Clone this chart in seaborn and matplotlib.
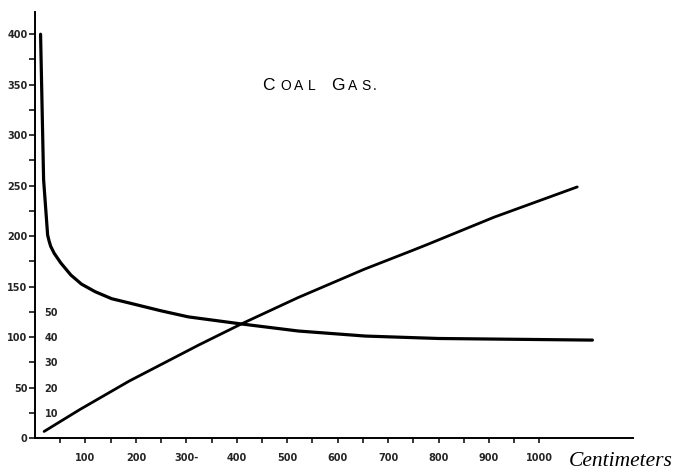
import matplotlib
matplotlib.use("Agg")
import matplotlib.pyplot as plt
import pandas as pd
import seaborn as sns
from matplotlib.ticker import FixedLocator

# -----------------------------
# Data
# -----------------------------
# falling curve, left scale (0-400)
dist_falling = [11, 17, 25, 28, 31, 38, 51, 71, 92, 119, 152, 185, 250, 304, 409, 522, 655, 800, 1105]
val_falling = [400, 256, 201, 195, 190, 183, 173.5, 161.5, 152.5, 145, 138, 134, 126, 120, 113, 106, 101, 98.6, 97]

# rising curve, inner scale (10-50)
dist_rising = [18, 89, 187, 325, 409, 521, 653, 744, 778, 910, 1075]
val_rising = [2.6, 11.3, 22.6, 36.9, 45.2, 55.6, 66.9, 74.0, 76.7, 87.5, 99.5]

x_ticks = [100, 200, 300, 400, 500, 600, 700, 800, 900, 1000]
x_labels = ["100", "200", "300-", "400", "500", "600", "700", "800", "900", "1000"]
x_minor = [50, 150, 250, 350, 450, 550, 650, 750, 850, 950]
y_ticks = [0, 50, 100, 150, 200, 250, 300, 350, 400]
y_minor = [25, 75, 125, 175, 225, 275, 325, 375]
inner_ticks = [10, 20, 30, 40, 50]
scale_ratio = 2.5  # left scale / inner scale

falling_df = pd.DataFrame({"cm": dist_falling, "value": val_falling})
rising_df = pd.DataFrame({"cm": dist_rising, "value": val_rising})

# -----------------------------
# Plot
# -----------------------------
sns.set_style("white")
plt.rcParams["font.family"] = ["DejaVu Sans"]

fig = plt.figure(figsize=(6.8, 4.72), dpi=100)
ax = fig.add_axes([0.0515, 0.072, 0.879, 0.9025])

xmax, ymax = 1185, 422

sns.lineplot(data=falling_df, x="cm", y="value", ax=ax, color="black",
             linewidth=2.3, estimator=None, sort=False)

ax2 = ax.twinx()
sns.lineplot(data=rising_df, x="cm", y="value", ax=ax2, color="black",
             linewidth=2.0, estimator=None, sort=False)

for a in (ax, ax2):
    a.set_xlim(0, xmax)
    a.set_xlabel("")
    a.set_ylabel("")
ax.set_ylim(0, ymax)
ax2.set_ylim(0, ymax / scale_ratio)

# axes frame
for side in ["top", "right"]:
    ax.spines[side].set_visible(False)
for side in ["left", "bottom"]:
    ax.spines[side].set_color("black")
    ax.spines[side].set_linewidth(1.4)
for side in ["top", "left", "bottom"]:
    ax2.spines[side].set_visible(False)
ax2.spines["right"].set_position(("axes", 0))
ax2.spines["right"].set_visible(False)

# x ticks
ax.set_xticks(x_ticks)
ax.set_xticklabels(x_labels)
ax.xaxis.set_minor_locator(FixedLocator(x_minor))
ax.tick_params(axis="x", which="both", direction="out", length=3.5, width=1.1,
               color="black", bottom=True, pad=7, labelsize=7)
for lbl in ax.get_xticklabels():
    lbl.set_fontweight("bold")

# left y ticks
ax.set_yticks(y_ticks)
ax.yaxis.set_minor_locator(FixedLocator(y_minor))
ax.tick_params(axis="y", which="both", direction="out", length=4, width=1.1,
               color="black", left=True, pad=1.5, labelsize=7)
for lbl in ax.get_yticklabels():
    lbl.set_fontweight("bold")

# inner scale labels, just right of the axis
ax2.set_yticks(inner_ticks)
ax2.tick_params(axis="y", length=0, pad=7, labelsize=7, right=False, labelright=True)
for lbl in ax2.get_yticklabels():
    lbl.set_fontweight("bold")

# title in small caps
W, H = 680, 472
title_parts = [("C", 262, 12.5), ("O", 280, 10), ("A", 294, 10), ("L", 308, 10),
               ("G", 331, 12.5), ("A", 348, 10), ("S", 361, 10), (".", 373, 10)]
for ch, px, size in title_parts:
    fig.text(px / W, 1 - 89.5 / H, ch, fontsize=size, family="Liberation Sans",
             ha="left", va="baseline", color="black")

fig.text(569 / W, 1 - 466 / H, "Centimeters", fontsize=15.5, family="Liberation Serif",
         style="italic", ha="left", va="baseline", color="black")

fig.savefig("out.png", dpi=100, facecolor="white")
